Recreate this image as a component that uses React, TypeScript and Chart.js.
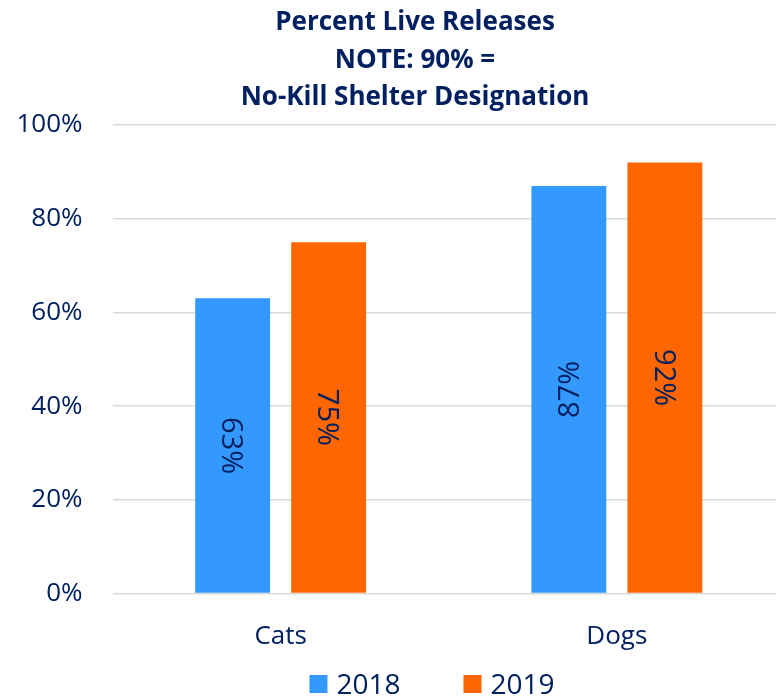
import React, { useEffect, useRef } from "react";
import { Chart, registerables } from "chart.js";

Chart.register(...registerables);

const categories = ["Cats", "Dogs"];
const seriesNames = ["2018", "2019"];
const values2018 = [63, 87];
const values2019 = [75, 92];
const yTickValues = [0, 20, 40, 60, 80, 100];
const titleLines = ["Percent Live Releases", "NOTE: 90% =", "No-Kill Shelter Designation"];
// label rotation (degrees) per series, per category, as in the picture
const labelRotations2018 = [90, -90];
const labelRotations2019 = [90, 90];

const NAVY = "#002060";
const BLUE = "#3399FF";
const ORANGE = "#FF6600";
const FONT = "'Open Sans', 'Noto Sans', sans-serif";
const CAP = 0.714;

const overlayPlugin = {
  id: "overlay",
  afterDatasetsDraw(chart: any, _args: any, opts: any) {
    const ctx: CanvasRenderingContext2D = chart.ctx;
    ctx.save();
    chart.data.datasets.forEach((ds: any, di: number) => {
      const meta = chart.getDatasetMeta(di);
      meta.data.forEach((bar: any, i: number) => {
        const p = bar.getProps(["x", "y", "base"], true);
        const cy = (p.y + p.base) / 2;
        ctx.save();
        ctx.translate(p.x, cy);
        ctx.rotate((opts.rotations[di][i] * Math.PI) / 180);
        ctx.font = `${opts.labelSize}px ${FONT}`;
        ctx.fillStyle = NAVY;
        ctx.textAlign = "center";
        ctx.textBaseline = "alphabetic";
        ctx.fillText(`${ds.data[i]}%`, 0, (opts.labelSize * CAP) / 2);
        ctx.restore();
      });
    });
    ctx.restore();
  },
  afterDraw(chart: any, _args: any, opts: any) {
    const ctx: CanvasRenderingContext2D = chart.ctx;
    ctx.save();
    // title
    ctx.font = `bold ${opts.titleSize}px ${FONT}`;
    ctx.fillStyle = NAVY;
    ctx.textAlign = "center";
    ctx.textBaseline = "alphabetic";
    titleLines.forEach((line, i) => {
      ctx.fillText(line, opts.titleX, opts.titleY + i * opts.titleLineHeight);
    });
    // legend
    ctx.font = `${opts.legendSize}px ${FONT}`;
    ctx.textAlign = "left";
    const box = opts.legendBox;
    const gap = opts.legendTextGap;
    const itemGap = opts.legendItemGap;
    const items = chart.data.datasets.map((ds: any) => ({
      label: ds.label,
      color: ds.backgroundColor,
      w: box + gap + ctx.measureText(ds.label).width,
    }));
    const total = items.reduce((s: number, it: any) => s + it.w, 0) + itemGap * (items.length - 1);
    let x = opts.legendX - total / 2;
    items.forEach((it: any) => {
      ctx.fillStyle = it.color;
      ctx.fillRect(x, opts.legendBaseline - box - 1, box, box);
      ctx.fillStyle = NAVY;
      ctx.fillText(it.label, x + box + gap, opts.legendBaseline);
      x += it.w + itemGap;
    });
    ctx.restore();
  },
};

export default function App() {
  const ref = useRef<HTMLCanvasElement | null>(null);

  useEffect(() => {
    document.body.style.margin = "0";
    const canvas = ref.current;
    if (!canvas) return;
    const chart = new Chart(canvas, {
      type: "bar",
      data: {
        labels: categories,
        datasets: [
          { label: seriesNames[0], data: values2018, backgroundColor: BLUE, borderWidth: 0 },
          { label: seriesNames[1], data: values2019, backgroundColor: ORANGE, borderWidth: 0 },
        ],
      },
      options: {
        responsive: false,
        animation: false,
        devicePixelRatio: 1,
        layout: { padding: { top: 125, left: 0, right: 0, bottom: 0 } },
        datasets: {
          bar: { categoryPercentage: 0.571, barPercentage: 0.78 },
        },
        scales: {
          x: {
            grid: { display: false, drawTicks: false },
            border: { display: false },
            ticks: { color: NAVY, font: { family: FONT, size: 26 }, padding: 27 },
            afterFit: (s: any) => {
              s.height = 104.5;
            },
          },
          y: {
            min: 0,
            max: 100,
            afterBuildTicks: (s: any) => {
              s.ticks = yTickValues.map((v) => ({ value: v }));
            },
            grid: { color: "#D9D9D9", lineWidth: 1.5, drawTicks: false },
            border: { display: false },
            ticks: {
              color: NAVY,
              font: { family: FONT, size: 26 },
              padding: 30,
              callback: (v: any) => `${v}%`,
            },
            afterFit: (s: any) => {
              s.width = 112.5;
            },
          },
        },
        plugins: {
          legend: { display: false },
          title: { display: false },
          tooltip: { enabled: false },
          overlay: {
            rotations: [labelRotations2018, labelRotations2019],
            labelSize: 29,
            titleSize: 26,
            titleX: 415,
            titleY: 30,
            titleLineHeight: 37.5,
            legendSize: 28,
            legendX: 432,
            legendBaseline: 694,
            legendBox: 18,
            legendTextGap: 9,
            legendItemGap: 63,
          },
        } as any,
      },
      plugins: [overlayPlugin],
    });
    return () => chart.destroy();
  }, []);

  return (
    <div style={{ width: 776, height: 698, overflow: "hidden", position: "relative", background: "#fff" }}>
      <canvas ref={ref} width={785} height={698} style={{ display: "block" }} />
    </div>
  );
}
